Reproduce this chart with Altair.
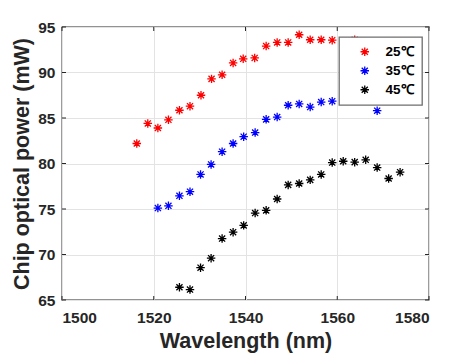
import altair as alt
import pandas as pd

# ---- data ----
wl_25 = [1516.3, 1518.7, 1520.9, 1523.2, 1525.6, 1527.9, 1530.3, 1532.6, 1534.9,
         1537.3, 1539.5, 1542.0, 1544.5, 1546.9, 1549.3, 1551.7, 1554.1, 1556.5,
         1558.9, 1563.8]
p_25 = [82.2, 84.4, 83.9, 84.8, 85.85, 86.3, 87.5, 89.3, 89.75,
        91.05, 91.5, 91.6, 92.9, 93.3, 93.3, 94.15, 93.6, 93.6,
        93.55, 93.6]

wl_35 = [1520.9, 1523.2, 1525.6, 1527.9, 1530.2, 1532.5, 1534.9, 1537.3, 1539.6,
         1542.1, 1544.5, 1546.9, 1549.3, 1551.7, 1554.1, 1556.5, 1558.9, 1563.8,
         1566.3, 1568.7]
p_35 = [75.1, 75.35, 76.45, 76.9, 78.8, 79.9, 81.3, 82.2, 82.95,
        83.4, 84.85, 85.1, 86.4, 86.55, 86.2, 86.75, 86.85, 86.95,
        86.95, 85.8]

wl_45 = [1525.6, 1527.9, 1530.2, 1532.5, 1534.9, 1537.3, 1539.6, 1542.1, 1544.5,
         1546.9, 1549.3, 1551.7, 1554.1, 1556.5, 1558.9, 1561.3, 1563.8, 1566.2,
         1568.7, 1571.2, 1573.7]
p_45 = [66.4, 66.15, 68.55, 69.6, 71.75, 72.45, 73.2, 74.55, 74.85,
        76.1, 77.65, 77.8, 78.2, 78.8, 80.1, 80.25, 80.15, 80.4,
        79.55, 78.35, 79.05]

series_names = ["25℃", "35℃", "45℃"]
series_colors = ["#ff0000", "#0000ff", "#000000"]

x_ticks = [1500, 1520, 1540, 1560, 1580]
y_ticks = [65, 70, 75, 80, 85, 90, 95]

rows = []
for name, xs, ys in zip(series_names, [wl_25, wl_35, wl_45], [p_25, p_35, p_45]):
    for xv, yv in zip(xs, ys):
        rows.append({"wl": xv, "p": yv, "T": name})
df = pd.DataFrame(rows)
df_xt = pd.DataFrame({"xt": x_ticks})
df_yt = pd.DataFrame({"yt": y_ticks})

W, H = 367, 273
FONT = "Liberation Sans, Arial, sans-serif"
ASTERISK = "M0,-1L0,1M-1,0L1,0M-0.72,-0.72L0.72,0.72M-0.72,0.72L0.72,-0.72"

xscale = alt.Scale(domain=[1500, 1580], nice=False, zero=False)
yscale = alt.Scale(domain=[65, 95], nice=False, zero=False)

x_axis = alt.Axis(values=x_ticks, format="d", title="Wavelength (nm)", grid=True, tickSize=0,
                  labelPadding=10, titlePadding=5, domain=False)
y_axis = alt.Axis(values=y_ticks, format="d", title="Chip optical power (mW)", grid=True, tickSize=0,
                  labelPadding=7, titlePadding=4, domain=False)

points = alt.Chart(df).mark_point(
    shape=ASTERISK, filled=False, size=72, strokeWidth=1.3, opacity=1
).encode(
    x=alt.X("wl:Q", scale=xscale, axis=x_axis),
    y=alt.Y("p:Q", scale=yscale, axis=y_axis),
    color=alt.Color("T:N", scale=alt.Scale(domain=series_names, range=series_colors),
                    legend=alt.Legend(title=None, orient="none", legendX=277, legendY=10)),
)

tick_style = dict(color="#262626", strokeWidth=1)
xt_bottom = alt.Chart(df_xt).mark_rule(**tick_style).encode(
    x=alt.X("xt:Q", scale=xscale), y=alt.value(H), y2=alt.value(H - 4))
xt_top = alt.Chart(df_xt).mark_rule(**tick_style).encode(
    x=alt.X("xt:Q", scale=xscale), y=alt.value(0), y2=alt.value(4))
yt_left = alt.Chart(df_yt).mark_rule(**tick_style).encode(
    y=alt.Y("yt:Q", scale=yscale), x=alt.value(0), x2=alt.value(4))
yt_right = alt.Chart(df_yt).mark_rule(**tick_style).encode(
    y=alt.Y("yt:Q", scale=yscale), x=alt.value(W), x2=alt.value(W - 4))

chart = alt.layer(xt_bottom, xt_top, yt_left, yt_right, points).properties(
    width=W, height=H,
    autosize=alt.AutoSizeParams(type="none"),
    padding={"left": 62, "top": 27, "right": 45, "bottom": 56},
    background="white",
).configure_view(
    stroke="#262626", strokeWidth=1.3
).configure_axis(
    labelFont=FONT, labelFontSize=15.5, labelFontWeight="bold", labelColor="#262626",
    titleFont=FONT, titleFontSize=21.5, titleFontWeight="bold", titleColor="#262626",
    gridColor="#e3e3e3", gridWidth=1,
).configure_legend(
    labelFont=FONT, labelFontSize=13.5, labelFontWeight="bold", labelColor="#000000",
    strokeColor="#6e6e6e", strokeWidth=1.3, fillColor="white", padding=8,
    symbolOffset=11, labelOffset=14, rowPadding=4, symbolSize=72, symbolStrokeWidth=1.3,
    cornerRadius=0,
)

chart.save("out.html", embed_options={"renderer": "svg", "actions": False})
